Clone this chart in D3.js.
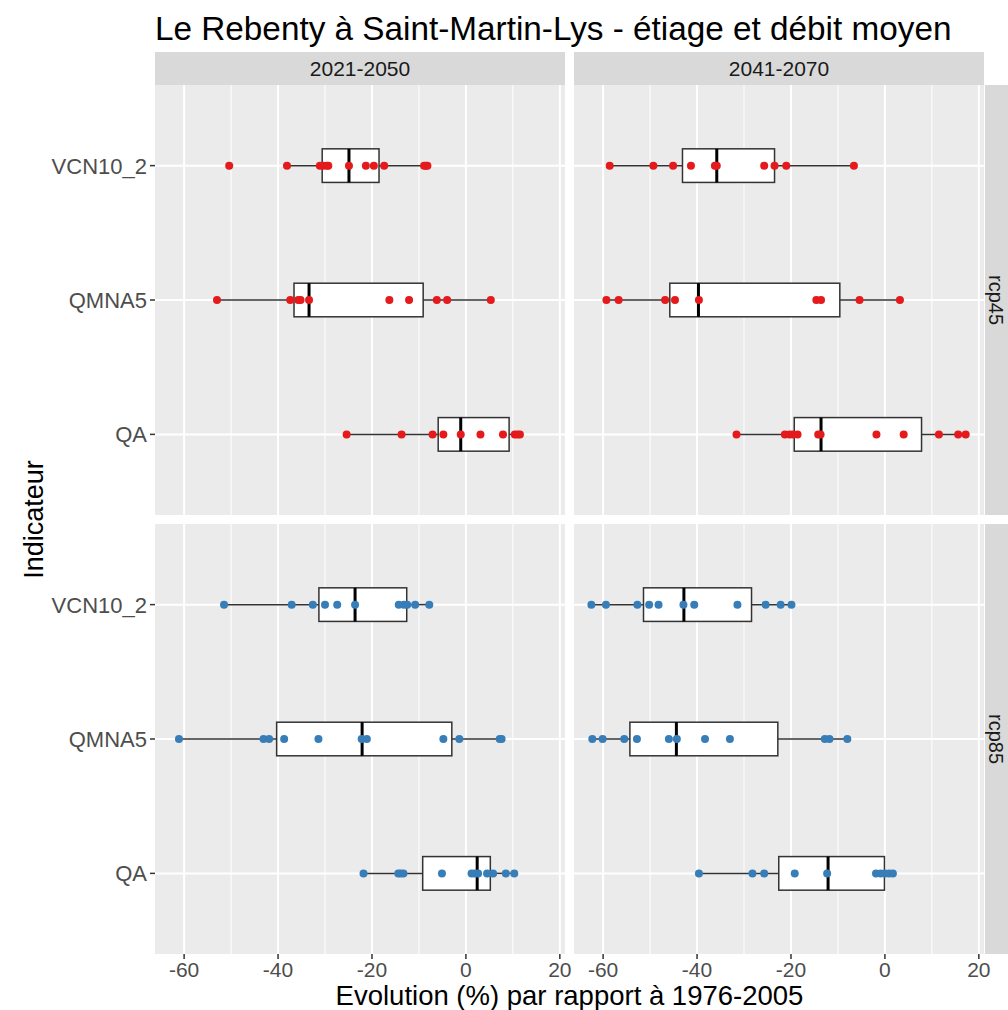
<!doctype html>
<html lang="fr">
  <head>
    <meta charset="UTF-8" />
    <title>Le Rebenty à Saint-Martin-Lys - étiage et débit moyen</title>
    <script src="https://d3js.org/d3.v7.min.js"></script>
    <style>
      body {
        margin: 0;
        background: #fff;
      }
      svg text {
        font-family: 'Liberation Sans', Arial, sans-serif;
      }
    </style>
  </head>
  <body>
    <svg width="1008" height="1010"></svg>
    <script>
      const indicators = ['VCN10_2', 'QMNA5', 'QA'];
      const periods = ['2021-2050', '2041-2070'];
      const scenarios = ['rcp45', 'rcp85'];
      const xTicks = [-60, -40, -20, 0, 20];
      const xMinor = [-50, -30, -10, 10];

      // points per panel, one list per indicator (VCN10_2, QMNA5, QA)
      const rcp45_2021 = [
        [-50.4, -38.1, -31.1, -30.4, -29.6, -29.3, -24.9, -21.3, -19.6, -17.4, -8.9, -8.5, -8.2],
        [-53.0, -37.4, -35.7, -35.2, -33.4, -16.3, -12.1, -6.2, -4.0, 5.3],
        [-25.4, -13.7, -7.1, -4.8, -1.1, 3.1, 7.9, 10.4, 11.0, 11.5],
      ];
      const rcp45_2041 = [
        [-58.6, -49.3, -45.1, -41.3, -36.2, -35.8, -25.7, -23.5, -21.0, -6.6],
        [-59.3, -56.7, -46.8, -44.7, -39.6, -14.6, -13.6, -5.4, 3.2],
        [-31.6, -21.3, -20.3, -19.6, -18.6, -14.2, -13.7, -1.8, 4.0, 11.5, 15.6, 17.2],
      ];
      const rcp85_2021 = [
        [-51.5, -37.1, -32.6, -30.0, -27.4, -23.6, -14.3, -13.2, -12.5, -10.8, -7.8],
        [-61.1, -43.1, -41.9, -38.7, -31.4, -22.2, -21.1, -4.8, -1.4, 7.2, 7.6],
        [-21.8, -14.4, -13.9, -13.3, -5.1, 1.2, 1.9, 2.6, 4.5, 5.8, 8.5, 10.3],
      ];
      const rcp85_2041 = [
        [-62.5, -59.4, -52.7, -50.2, -48.2, -42.9, -40.6, -31.4, -25.4, -22.2, -19.9],
        [-62.3, -60.1, -55.5, -52.8, -46.0, -44.3, -38.3, -33.0, -12.8, -11.8, -8.0],
        [-39.6, -28.2, -25.7, -19.2, -12.3, -1.9, -0.9, 0, 0.9, 1.7],
      ];

      // box stats: [q1, median, q3]
      const box45_2021 = [[-30.6, -24.9, -18.5], [-36.6, -33.4, -9.1], [-5.9, -1.1, 9.2]];
      const box45_2041 = [[-43.1, -35.8, -23.5], [-45.8, -39.7, -9.6], [-19.3, -13.6, 7.8]];
      const box85_2021 = [[-31.3, -23.6, -12.6], [-40.3, -22.1, -3.0], [-9.2, 2.4, 5.2]];
      const box85_2041 = [[-51.4, -42.8, -28.4], [-54.3, -44.4, -22.8], [-22.6, -12.1, -0.1]];

      const panels = [
        { row: 0, col: 0, pts: rcp45_2021, box: box45_2021 },
        { row: 0, col: 1, pts: rcp45_2041, box: box45_2041 },
        { row: 1, col: 0, pts: rcp85_2021, box: box85_2021 },
        { row: 1, col: 1, pts: rcp85_2041, box: box85_2041 },
      ];
      const colors = ['#E41A1C', '#377EB8'];

      const svg = d3.select('svg');
      const panelW = 410;
      const panelH = 430;
      const gap = 9;
      const plotLeft = 155;
      const plotTop = 85;
      const stripH = 33;

      const x = d3.scaleLinear().domain([-66.2, 21.1]).range([0, panelW]);
      const y = d3
        .scalePoint()
        .domain(indicators)
        .range([0, panelH])
        .padding(0.6);
      const step = y.step();

      // title
      svg
        .append('text')
        .attr('x', plotLeft)
        .attr('y', 40)
        .style('font-size', '33.3px')
        .attr('fill', '#000')
        .text('Le Rebenty à Saint-Martin-Lys - étiage et débit moyen');

      // strips on top
      periods.forEach((p, i) => {
        const x0 = plotLeft + i * (panelW + gap);
        svg
          .append('rect')
          .attr('x', x0)
          .attr('y', plotTop - stripH)
          .attr('width', panelW)
          .attr('height', stripH)
          .attr('fill', '#D9D9D9');
        svg
          .append('text')
          .attr('x', x0 + panelW / 2)
          .attr('y', plotTop - stripH / 2)
          .attr('dy', '0.36em')
          .attr('text-anchor', 'middle')
          .style('font-size', '21px')
          .attr('fill', '#1A1A1A')
          .text(p);
      });

      // strips on the right (the page edge cuts the strip, as in the source)
      scenarios.forEach((s, i) => {
        const y0 = plotTop + i * (panelH + gap);
        const x0 = plotLeft + 2 * panelW + gap + 1;
        svg
          .append('rect')
          .attr('x', x0)
          .attr('y', y0)
          .attr('width', stripH)
          .attr('height', panelH)
          .attr('fill', '#D9D9D9');
        svg
          .append('text')
          .attr('transform', `translate(988.5,${y0 + panelH / 2}) rotate(90)`)
          .attr('text-anchor', 'middle')
          .style('font-size', '20px')
          .attr('fill', '#1A1A1A')
          .text(s);
      });

      panels.forEach((pn) => {
        const g = svg
          .append('g')
          .attr(
            'transform',
            `translate(${plotLeft + pn.col * (panelW + gap)},${plotTop + pn.row * (panelH + gap)})`,
          );

        g.append('rect')
          .attr('width', panelW)
          .attr('height', panelH)
          .attr('fill', '#EBEBEB');

        g.selectAll('.minor')
          .data(xMinor)
          .enter()
          .append('line')
          .attr('x1', (d) => x(d))
          .attr('x2', (d) => x(d))
          .attr('y1', 0)
          .attr('y2', panelH)
          .attr('stroke', '#fff')
          .attr('stroke-width', 1);

        g.selectAll('.vmajor')
          .data(xTicks)
          .enter()
          .append('line')
          .attr('x1', (d) => x(d))
          .attr('x2', (d) => x(d))
          .attr('y1', 0)
          .attr('y2', panelH)
          .attr('stroke', '#fff')
          .attr('stroke-width', 2);

        g.selectAll('.hmajor')
          .data(indicators)
          .enter()
          .append('line')
          .attr('x1', 0)
          .attr('x2', panelW)
          .attr('y1', (d) => y(d))
          .attr('y2', (d) => y(d))
          .attr('stroke', '#fff')
          .attr('stroke-width', 2);

        const color = colors[pn.row];

        indicators.forEach((ind, k) => {
          const pts = pn.pts[k];
          const [q1, med, q3] = pn.box[k];
          const iqr = q3 - q1;
          const lo = d3.min(pts.filter((v) => v >= q1 - 1.5 * iqr));
          const hi = d3.max(pts.filter((v) => v <= q3 + 1.5 * iqr));
          const cy = y(ind);
          const bh = step * 0.25;

          g.append('line')
            .attr('x1', x(lo))
            .attr('x2', x(q1))
            .attr('y1', cy)
            .attr('y2', cy)
            .attr('stroke', '#333')
            .attr('stroke-width', 1.5);
          g.append('line')
            .attr('x1', x(q3))
            .attr('x2', x(hi))
            .attr('y1', cy)
            .attr('y2', cy)
            .attr('stroke', '#333')
            .attr('stroke-width', 1.5);
          g.append('rect')
            .attr('x', x(q1))
            .attr('y', cy - bh / 2)
            .attr('width', x(q3) - x(q1))
            .attr('height', bh)
            .attr('fill', '#fff')
            .attr('stroke', '#333')
            .attr('stroke-width', 1.5);
          g.append('line')
            .attr('x1', x(med))
            .attr('x2', x(med))
            .attr('y1', cy - bh / 2)
            .attr('y2', cy + bh / 2)
            .attr('stroke', '#000')
            .attr('stroke-width', 3);

          g.selectAll(null)
            .data(pts)
            .enter()
            .append('circle')
            .attr('cx', (d) => x(d))
            .attr('cy', cy)
            .attr('r', 4)
            .attr('fill', color);
        });

        // y axis on first column
        if (pn.col === 0) {
          indicators.forEach((ind) => {
            g.append('line')
              .attr('x1', -5)
              .attr('x2', 0)
              .attr('y1', y(ind))
              .attr('y2', y(ind))
              .attr('stroke', '#333')
              .attr('stroke-width', 1.5);
            g.append('text')
              .attr('x', -8)
              .attr('y', y(ind))
              .attr('dy', '0.36em')
              .attr('text-anchor', 'end')
              .style('font-size', '22px')
              .attr('fill', '#4D4D4D')
              .text(ind);
          });
        }

        // x axis on bottom row
        if (pn.row === 1) {
          xTicks.forEach((t) => {
            g.append('line')
              .attr('x1', x(t))
              .attr('x2', x(t))
              .attr('y1', panelH)
              .attr('y2', panelH + 5)
              .attr('stroke', '#333')
              .attr('stroke-width', 1.5);
            g.append('text')
              .attr('x', x(t))
              .attr('y', panelH + 23)
              .attr('text-anchor', 'middle')
              .style('font-size', '21px')
              .attr('fill', '#4D4D4D')
              .text(t);
          });
        }
      });

      // axis titles
      svg
        .append('text')
        .attr('x', plotLeft + panelW + gap / 2)
        .attr('y', 1005)
        .attr('text-anchor', 'middle')
        .style('font-size', '27.5px')
        .attr('fill', '#000')
        .text('Evolution (%) par rapport à 1976-2005');

      svg
        .append('text')
        .attr('transform', `translate(43,${plotTop + panelH + gap / 2}) rotate(-90)`)
        .attr('text-anchor', 'middle')
        .style('font-size', '27px')
        .attr('fill', '#000')
        .text('Indicateur');
    </script>
  </body>
</html>
